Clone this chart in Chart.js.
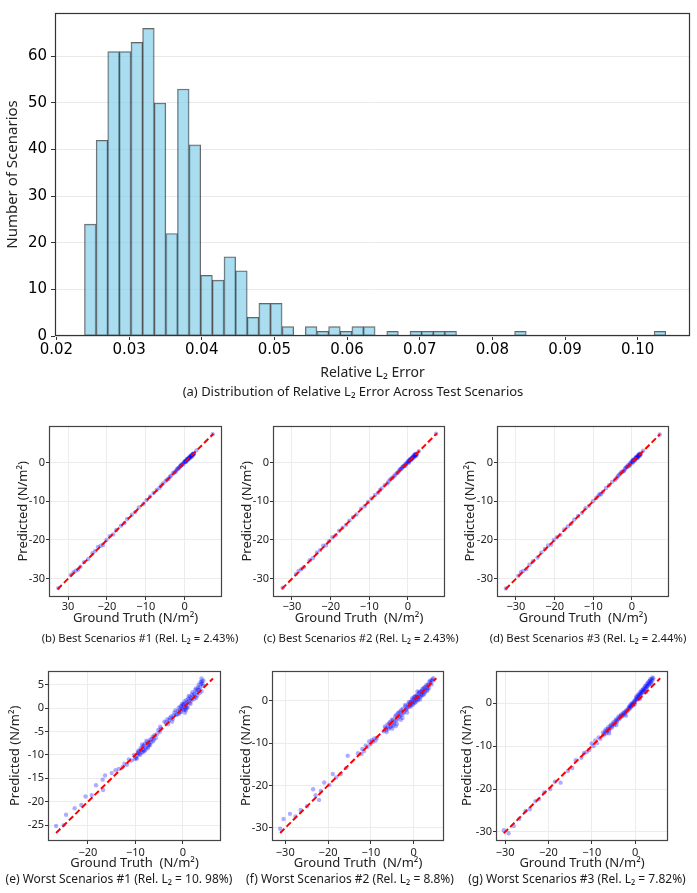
<!DOCTYPE html>
<html>
<head>
<meta charset="utf-8">
<script src="https://cdn.jsdelivr.net/npm/chart.js"></script>
<style>
  body { margin: 0; background: #fff; width: 697px; height: 893px; position: relative; overflow: hidden; font-family: 'Noto Sans', sans-serif; }
  canvas { position: absolute; }
  .cap { position: absolute; transform: translate(-50%, -50%); white-space: pre; color: #1a1a1a; font-size: 12px; }
  .row1 { font-size: 11.3px; }
</style>
</head>
<body>
<canvas id="hist"></canvas>
<canvas id="cb"></canvas>
<canvas id="cc"></canvas>
<canvas id="cd"></canvas>
<canvas id="ce"></canvas>
<canvas id="cf"></canvas>
<canvas id="cg"></canvas>

<div class="cap" style="left:353px;top:391px;font-size:13px">(a) Distribution of Relative L₂ Error Across Test Scenarios</div>
<div class="cap row1" style="left:140px;top:637px">(b) Best Scenarios #1 (Rel. L₂ = 2.43%)</div>
<div class="cap row1" style="left:361px;top:637px">(c) Best Scenarios #2 (Rel. L₂ = 2.43%)</div>
<div class="cap row1" style="left:588px;top:637px">(d) Best Scenarios #3 (Rel. L₂ = 2.44%)</div>
<div class="cap" style="left:119px;top:878px">(e) Worst Scenarios #1 (Rel. L₂ = 10. 98%)</div>
<div class="cap" style="left:350px;top:878px">(f) Worst Scenarios #2 (Rel. L₂ = 8.8%)</div>
<div class="cap" style="left:577px;top:878px">(g) Worst Scenarios #3 (Rel. L₂ = 7.82%)</div>

<script>
// ---- histogram data (50 bins) ----
const binStart = 0.02386;
const binWidth = 0.0016;
const histCounts = [24, 42, 61, 61, 63, 66, 50, 22, 53, 41,
                    13, 12, 17, 14, 4, 7, 7, 2, 0, 2,
                    1, 2, 1, 2, 2, 0, 1, 0, 1, 1,
                    1, 1, 0, 0, 0, 0, 0, 1, 0, 0,
                    0, 0, 0, 0, 0, 0, 0, 0, 0, 1];
const histXTicks = [0.02, 0.03, 0.04, 0.05, 0.06, 0.07, 0.08, 0.09, 0.10];
const histXLabels = ['0.02', '0.03', '0.04', '0.05', '0.06', '0.07', '0.08', '0.09', '0.10'];
const histYTicks = [0, 10, 20, 30, 40, 50, 60];

// ---- scatter data: [ground truth, predicted] ----
const scatterB = [[-32.5,-32.4],[-29.3,-29.0],[-28.6,-28.3],[-28.0,-27.9],[-27.4,-27.6],[-26.8,-26.9],[-25.9,-25.7],
  [-24.8,-24.9],[-23.7,-23.4],[-23.0,-22.8],[-22.3,-21.8],[-21.6,-21.5],[-21.0,-21.3],[-20.1,-20.0],[-19.3,-19.0],
  [-18.4,-18.6],[-17.6,-17.4],[-16.4,-16.3],[-15.5,-15.6],[-14.8,-14.6],[-13.6,-13.5],[-12.7,-12.8],[-11.8,-11.6],
  [-10.6,-10.7],[-9.8,-9.7],[-8.9,-8.8],[-8.0,-7.9],[-7.2,-7.1],[-6.5,-6.6],[-5.6,-5.4],[-4.9,-4.8],[-4.1,-4.2],
  [-3.5,-3.4],[-3.0,-2.8],[-2.4,-2.5],[-2.0,-1.8],[-1.6,-1.5],[-1.2,-1.0],[-0.8,-0.6],[-0.5,-0.3],[-0.2,0.0],
  [0.1,0.3],[0.3,0.1],[0.5,0.6],[0.8,0.7],[1.0,1.1],[1.2,1.0],[1.5,1.4],[1.7,1.8],[1.9,1.6],[2.1,2.0],[2.3,2.3],
  [2.0,2.2],[1.4,1.6],[0.6,0.9],[-0.9,-0.7],[-1.4,-1.3],[3.0,3.1],[7.2,7.3],
  [-2.7,-2.6],[-2.2,-2.1],[-1.8,-1.6],[-1.0,-0.9],[-0.4,-0.5],[0.0,0.2],[0.2,0.4],[0.4,0.3],[0.7,0.9],[0.9,0.8],
  [1.1,1.3],[1.3,1.2],[1.6,1.7],[1.8,1.5],[2.0,2.0],[2.2,2.1],[2.4,2.2],[-3.8,-3.7],[-4.5,-4.4],[-6.1,-6.0]];
const scatterC = [[-32.4,-32.3],[-29.0,-28.8],[-28.3,-28.0],[-27.6,-27.5],[-26.9,-27.0],[-25.4,-25.2],[-24.6,-24.7],
  [-23.5,-23.2],[-22.7,-22.6],[-21.9,-21.5],[-21.2,-21.4],[-20.4,-20.3],[-19.5,-19.3],[-18.7,-18.8],[-17.8,-17.6],
  [-16.9,-16.8],[-16.0,-16.1],[-15.1,-15.0],[-14.2,-14.1],[-13.3,-13.4],[-12.1,-11.9],[-11.2,-11.3],[-10.3,-10.2],
  [-9.4,-9.3],[-8.5,-8.4],[-7.7,-7.8],[-6.8,-6.7],[-6.0,-5.9],[-5.3,-5.4],[-4.6,-4.4],[-3.9,-3.9],[-3.2,-3.1],
  [-2.6,-2.6],[-2.1,-1.9],[-1.7,-1.7],[-1.3,-1.1],[-0.9,-0.8],[-0.6,-0.4],[-0.3,-0.1],[0.0,0.2],[0.2,-0.1],
  [0.4,0.5],[0.7,0.6],[0.9,1.0],[1.1,0.9],[1.3,1.4],[1.6,1.5],[1.8,1.9],[2.0,1.7],[2.2,2.1],[1.9,2.2],
  [1.5,1.8],[0.5,0.8],[-0.7,-0.9],[-1.5,-1.3],[2.8,2.9],[7.3,7.4],
  [-2.8,-2.7],[-2.3,-2.2],[-1.9,-1.7],[-1.1,-1.0],[-0.5,-0.5],[0.1,0.3],[0.3,0.2],[0.6,0.8],[0.8,0.7],[1.0,1.2],
  [1.2,1.1],[1.4,1.3],[1.7,1.8],[1.9,1.6],[2.1,2.2],[2.3,2.0],[-3.5,-3.5],[-4.2,-4.1],[-5.0,-4.9],[-7.2,-7.1]];
const scatterD = [[-32.6,-32.5],[-29.4,-29.2],[-28.7,-28.3],[-28.1,-28.0],[-27.3,-27.5],[-26.5,-26.4],[-25.6,-25.5],
  [-24.4,-24.5],[-23.4,-23.2],[-22.5,-22.3],[-21.7,-21.4],[-20.9,-21.2],[-20.2,-20.0],[-19.4,-19.3],[-18.5,-18.7],
  [-17.5,-17.3],[-16.6,-16.5],[-15.7,-15.8],[-14.9,-14.7],[-13.9,-13.8],[-12.9,-13.0],[-12.0,-11.8],[-11.1,-11.2],
  [-10.1,-10.0],[-9.2,-9.1],[-8.3,-8.1],[-7.5,-7.6],[-6.7,-6.6],[-5.9,-5.9],[-5.1,-5.0],[-4.4,-4.5],[-3.7,-3.6],
  [-3.1,-3.0],[-2.5,-2.4],[-2.0,-2.1],[-1.6,-1.4],[-1.2,-1.2],[-0.8,-0.7],[-0.5,-0.2],[-0.1,0.1],[0.2,0.0],
  [0.4,0.6],[0.7,0.5],[0.9,1.1],[1.2,1.0],[1.4,1.6],[1.6,1.3],[1.8,2.0],[2.0,1.8],[2.2,2.3],[1.7,1.9],
  [1.1,1.4],[0.3,0.7],[-0.6,-0.9],[-1.4,-1.1],[2.9,3.0],[7.2,7.2],
  [-2.8,-2.6],[-2.2,-2.3],[-1.8,-1.7],[-1.0,-0.8],[-0.3,-0.4],[0.0,0.3],[0.3,0.2],[0.5,0.7],[0.8,0.6],[1.0,1.2],
  [1.3,1.1],[1.5,1.5],[1.7,1.6],[1.9,2.1],[2.1,1.9],[2.3,2.1],[-3.4,-3.3],[-4.0,-4.1],[-8.0,-8.2],[-8.6,-8.5]];
const scatterE = [[3.9,6.3],[4.0,5.7],[3.8,5.2],[3.6,4.4],[4.2,4.8],[3.3,5.0],[3.1,3.9],[2.9,3.4],[2.6,3.8],
  [2.4,3.0],[2.2,2.6],[1.9,2.9],[1.7,2.1],[1.5,2.4],[1.3,1.6],[1.1,2.0],[0.9,1.2],[0.7,0.5],[0.5,1.0],[0.3,0.2],
  [0.2,-0.4],[0.0,0.6],[-0.1,-0.2],[-0.3,0.3],[-0.4,-0.8],[-0.6,-0.3],[0.6,-0.5],[1.0,0.2],[0.4,-1.0],[-0.8,-1.2],
  [-1.1,-0.6],[-1.4,-1.5],[-1.8,-1.0],[-2.1,-2.3],[-2.5,-1.8],[-2.9,-2.6],[-3.3,-2.4],[-3.6,-3.1],[2.8,2.2],
  [3.5,3.2],[1.6,0.9],[-4.6,-4.4],[-4.9,-5.1],[-5.2,-4.7],[-5.5,-5.6],[-6.1,-6.7],[-6.4,-6.2],[-6.7,-7.3],
  [-7.0,-6.8],[-7.2,-7.9],[-7.5,-7.3],[-7.8,-8.4],[-8.0,-7.6],[-8.3,-8.9],[-8.5,-8.2],[-8.7,-9.5],[-8.9,-8.6],
  [-9.2,-9.8],[-9.4,-9.1],[-9.6,-10.2],[-8.1,-9.2],[-7.4,-8.6],[-6.9,-7.9],[-9.9,-10.6],[-10.3,-10.0],
  [-10.8,-11.2],[-11.4,-11.0],[-11.8,-12.1],[-12.3,-11.9],[-12.7,-12.6],[-13.5,-13.0],[-14.2,-13.3],
  [-15.0,-13.9],[-16.4,-14.4],[-16.9,-15.3],[-16.8,-17.5],[-18.3,-16.5],[-19.2,-18.6],[-20.5,-18.9],
  [-21.4,-20.7],[-22.8,-21.4],[-24.6,-22.8],[-25.1,-25.0],[-26.7,-25.2],
  [0.1,0.9],[0.3,1.4],[0.5,-0.2],[0.7,1.7],[0.8,0.0],[1.2,2.6],[1.4,1.1],[1.8,1.6],[2.0,3.4],[2.3,1.9],[2.5,2.4],
  [2.7,4.2],[3.0,2.7],[3.2,4.4],[3.4,3.8],[3.7,5.6],[4.1,5.2],[4.3,5.9],[3.9,3.6],[-0.2,0.9],[-0.5,0.4],
  [-0.7,-0.9],[-0.9,0.1],[-1.2,-1.3],[-1.6,-0.5],[-2.0,-1.6],[-2.3,-2.9],[-2.7,-2.1],[-3.1,-3.4],[-3.9,-2.9],
  [-6.3,-7.1],[-6.6,-6.6],[-7.1,-7.6],[-7.3,-8.2],[-7.7,-7.0],[-7.9,-8.9],[-8.2,-8.0],[-8.4,-9.4],[-8.6,-7.8],
  [-8.8,-9.0],[-9.0,-10.0],[-9.3,-9.3],[-9.5,-9.6],[-9.7,-10.8],[-10.1,-10.9],[-6.0,-5.8],[-5.7,-6.4],[-4.8,-4.0]];
const scatterF = [[4.6,5.3],[4.3,4.7],[4.0,4.2],[3.7,4.5],[3.5,3.6],[3.2,3.0],[3.0,3.7],[2.7,2.4],[2.5,3.1],
  [2.2,2.0],[2.0,2.7],[1.8,1.4],[1.6,2.1],[1.4,1.0],[1.2,1.7],[1.0,0.6],[0.8,1.3],[0.6,0.2],[0.4,0.9],[0.2,-0.2],
  [0.0,0.4],[-0.2,-0.6],[-0.4,0.1],[-0.6,-1.0],[-0.8,-0.4],[1.5,0.3],[2.4,1.5],[3.3,2.6],[0.9,2.2],[-1.0,-1.3],
  [-1.3,-0.8],[-1.6,-1.9],[-1.9,-1.3],[-2.2,-2.6],[-2.5,-1.9],[-2.8,-3.3],[-3.1,-2.6],[-3.4,-3.8],[-3.7,-3.0],
  [-4.0,-4.6],[-4.3,-3.7],[-4.6,-5.3],[-4.9,-4.4],[-5.2,-5.9],[-5.5,-5.0],[-5.8,-6.6],[-6.1,-5.6],[-6.4,-6.9],
  [-3.9,-5.5],[-5.0,-6.6],[-2.6,-4.1],[-6.7,-6.1],[-8.6,-8.8],[-8.9,-9.4],[-9.2,-8.9],[-9.5,-9.7],[-9.8,-9.3],
  [-10.1,-10.3],[-10.4,-9.6],[-10.8,-10.9],[-11.2,-10.6],[-11.6,-11.9],[-12.0,-11.4],[-12.2,-12.6],[-13.0,-12.4],
  [-15.4,-13.0],[-15.8,-15.9],[-17.0,-17.3],[-18.1,-18.1],[-18.9,-17.3],[-19.7,-19.9],[-20.9,-19.3],
  [-21.7,-21.3],[-22.1,-23.4],[-22.9,-22.3],[-23.5,-20.9],[-24.9,-24.9],[-26.4,-25.8],[-27.6,-27.3],
  [-28.9,-26.7],[-30.4,-27.9],[-31.2,-30.2],
  [0.1,0.9],[0.3,-0.5],[0.5,1.2],[0.7,-0.2],[0.9,0.9],[1.1,0.2],[1.3,2.0],[1.7,1.0],[1.9,2.3],[2.1,1.3],[2.3,2.9],
  [2.6,1.9],[2.8,3.3],[3.1,2.3],[3.4,3.9],[3.6,3.0],[3.9,4.8],[4.2,3.8],[4.4,5.0],[-0.1,-0.9],[-0.3,0.6],
  [-0.5,-0.3],[-0.7,-1.4],[-0.9,-0.9],[-1.1,-0.3],[-1.4,-1.6],[-1.8,-2.2],[-2.0,-1.0],[-2.4,-3.0],[-2.9,-2.2],
  [-3.2,-3.6],[-3.5,-2.8],[-3.8,-4.2],[-4.1,-3.4],[-4.5,-4.9],[-4.8,-5.8],[-5.1,-4.6],[-5.4,-6.2],[-5.7,-5.3],
  [-6.0,-6.3],[-6.3,-7.4],[-6.6,-6.5],[-7.0,-7.2],[-3.0,-4.5],[-4.2,-6.0],[-1.5,-2.8]];
const scatterG = [[4.2,5.8],[4.0,5.3],[3.8,5.6],[3.6,4.8],[3.4,5.2],[3.2,4.3],[3.0,4.7],[2.8,3.8],[2.6,4.1],
  [2.4,3.3],[2.2,3.6],[2.0,2.8],[1.8,3.1],[1.6,2.3],[1.4,2.6],[1.2,1.8],[1.0,2.1],[0.8,1.3],[0.6,1.6],[0.4,0.8],
  [0.2,1.1],[0.0,0.3],[-0.2,0.5],[-0.4,-0.2],[-0.6,0.1],[-0.8,-0.6],[-1.0,-0.3],[-1.2,-1.0],[3.9,4.4],[2.5,2.6],
  [1.1,1.0],[-1.4,-0.8],[-1.7,-1.5],[-2.0,-1.6],[-2.3,-2.2],[-2.6,-2.1],[-2.9,-2.8],[-3.2,-2.6],[-3.5,-3.3],
  [-3.8,-3.1],[-4.1,-4.0],[-4.4,-3.8],[-4.7,-4.7],[-5.0,-4.4],[-5.3,-5.4],[-5.6,-5.0],[-5.9,-6.0],[-6.2,-5.6],
  [-6.5,-6.5],[-6.8,-6.1],[-7.1,-7.1],[-7.4,-6.8],[-2.1,-2.9],[-4.3,-5.1],[-6.0,-7.0],[-8.0,-8.3],[-8.4,-8.0],
  [-8.8,-9.3],[-9.2,-8.7],[-9.6,-10.0],[-10.0,-9.4],[-10.6,-10.9],[-11.2,-11.4],[-11.8,-11.6],[-12.4,-12.7],
  [-13.7,-13.3],[-14.5,-15.1],[-15.5,-15.8],[-17.2,-18.5],[-18.5,-18.3],[-19.6,-20.0],[-21.0,-20.8],
  [-22.2,-22.4],[-23.0,-22.8],[-24.3,-24.7],[-25.3,-25.1],[-26.7,-26.9],[-28.0,-28.6],[-29.2,-30.3],[-30.3,-29.6],
  [0.1,0.8],[0.3,1.6],[0.5,1.0],[0.7,2.0],[0.9,1.5],[1.1,2.5],[1.3,2.1],[1.5,3.0],[1.7,2.6],[1.9,3.4],[2.1,3.0],
  [2.3,4.0],[2.5,3.5],[2.7,4.5],[2.9,4.0],[3.1,5.0],[3.3,4.5],[3.5,5.6],[3.7,5.1],[4.0,6.0],[-0.1,-0.3],
  [-0.3,0.2],[-0.5,-0.5],[-0.7,-0.2],[-0.9,-0.9],[-1.1,-0.6],[-1.3,-1.4],[-1.5,-1.1],[-1.8,-1.9],[-2.1,-1.9],
  [-2.4,-2.6],[-2.7,-2.4],[-3.0,-3.1],[-3.3,-2.9],[-3.6,-3.7],[-3.9,-3.5],[-4.2,-4.4],[-4.5,-4.1],[-4.8,-5.1],
  [-5.1,-4.8],[-5.4,-5.7],[-5.7,-5.3],[-6.0,-6.4],[-6.3,-6.0],[-6.6,-7.0],[-6.9,-6.6],[-7.3,-7.5]];

// y = x reference line ends (min, max of the data)
const lineB = [-32.7, 7.4];
const lineC = [-32.6, 7.5];
const lineD = [-32.7, 7.3];
const lineE = [-26.7, 6.3];
const lineF = [-31.2, 5.3];
const lineG = [-30.3, 5.8];

const xTicksBest = [-30, -20, -10, 0];
const xLabelsB = ['30', '\u221220', '\u221210', '0'];
const xLabelsBest = ['\u221230', '\u221220', '\u221210', '0'];
const yTicksBest = [0, -10, -20, -30];
const yLabelsBest = ['0', '-10', '-20', '-30'];
const xTicksE = [-20, -10, 0];
const xLabelsE = ['\u221220', '\u221210', '0'];
const yTicksE = [5, 0, -5, -10, -15, -20, -25];
const yLabelsE = ['5', '0', '-5', '-10', '-15', '-20', '-25'];
const xTicksWorst = [-30, -20, -10, 0];
const xLabelsWorst = ['\u221230', '\u221220', '\u221210', '0'];
const yTicksWorst = [0, -10, -20, -30];
const yLabelsWorst = ['0', '-10', '-20', '-30'];

Chart.defaults.font.family = "'Noto Sans', sans-serif";
Chart.defaults.color = '#222';

// draws the box around the plot area like matplotlib spines
const framePlugin = {
  id: 'frame',
  afterDraw(chart) {
    const { ctx, chartArea: a } = chart;
    ctx.save();
    ctx.strokeStyle = chart.options.frameColor || '#333';
    ctx.lineWidth = 1.2;
    ctx.strokeRect(Math.round(a.left) + 0.5, Math.round(a.top) + 0.5,
      Math.round(a.right - a.left) - 1, Math.round(a.bottom - a.top) - 1);
    ctx.restore();
  }
};

function place(id, left, top, w, h) {
  const c = document.getElementById(id);
  c.width = Math.round(w);
  c.height = Math.round(h);
  c.style.left = Math.round(left) + 'px';
  c.style.top = Math.round(top) + 'px';
  return c;
}

// ---- histogram ----
(function () {
  const c = place('hist', 0, 0, 697, 385);
  new Chart(c, {
    type: 'bar',
    data: {
      datasets: [{
        data: histCounts.map((n, i) => ({ x: binStart + (i + 0.5) * binWidth, y: n })),
        backgroundColor: 'rgba(135, 206, 235, 0.7)',
        borderColor: 'rgba(0, 0, 0, 0.6)',
        borderWidth: ctx => (ctx.raw && ctx.raw.y > 0 ? 1 : 0),
        borderSkipped: false,
        barPercentage: 1,
        categoryPercentage: 1
      }]
    },
    options: {
      responsive: false,
      animation: false,
      frameColor: '#333',
      layout: { padding: { top: 8, right: 7, left: 0, bottom: 0 } },
      plugins: { legend: { display: false }, tooltip: { enabled: false } },
      scales: {
        x: {
          type: 'linear',
          offset: false,
          min: 0.0198,
          max: 0.1072,
          grid: { display: true, offset: false, drawOnChartArea: false, tickLength: 4, tickColor: '#333' },
          border: { display: false },
          afterBuildTicks: s => { s.ticks = histXTicks.map(v => ({ value: v })); },
          afterFit: s => { s.height = 49; },
          ticks: {
            font: { family: 'DejaVu Sans', size: 15 }, color: '#000', padding: 1, maxRotation: 0,
            callback: (v, i) => histXLabels[i]
          },
          title: { display: true, text: 'Relative L₂ Error', font: { size: 14 }, color: '#222', padding: { top: 0, bottom: 4 } }
        },
        y: {
          min: 0,
          max: 69.3,
          grid: { color: '#e9e9e9', tickLength: 4, tickColor: '#333' },
          border: { display: false },
          afterBuildTicks: s => { s.ticks = histYTicks.map(v => ({ value: v })); },
          afterFit: s => { s.width = 55; },
          ticks: { font: { family: 'DejaVu Sans', size: 15 }, color: '#000', padding: 4 },
          title: { display: true, text: 'Number of Scenarios', font: { size: 15 }, color: '#222', padding: { top: 4, bottom: 0 } }
        }
      }
    },
    plugins: [framePlugin]
  });
})();

// ---- scatter panels ----
function makeScatter(id, cfg) {
  const [fl, ft, fr, fb] = cfg.frame;
  const left = cfg.titleX - 11.8;
  const top = ft - 6;
  const right = fr + 6;
  const bottom = cfg.titleY + 11.8;
  const c = place(id, left, top, right - left, bottom - top);
  const yW = Math.round(fl) - Math.round(left);
  const xH = Math.round(bottom) - Math.round(fb);
  new Chart(c, {
    type: 'scatter',
    data: {
      datasets: [
        {
          data: [{ x: cfg.line[0], y: cfg.line[0] }, { x: cfg.line[1], y: cfg.line[1] }],
          showLine: true,
          borderColor: '#ff0000',
          borderWidth: 2,
          borderDash: [6, 3],
          pointRadius: 0,
          order: 0
        },
        {
          data: cfg.pts.map(p => ({ x: p[0], y: p[1] })),
          backgroundColor: 'rgba(0, 0, 255, 0.32)',
          borderWidth: 0,
          pointRadius: 2.2,
          order: 1
        }
      ]
    },
    options: {
      responsive: false,
      animation: false,
      frameColor: '#444',
      layout: { padding: { top: 6, right: 6, left: 0, bottom: 0 } },
      plugins: { legend: { display: false }, tooltip: { enabled: false } },
      scales: {
        x: {
          min: cfg.xr[0], max: cfg.xr[1],
          grid: { color: '#ececec', tickLength: 3, tickColor: '#333' },
          border: { display: false },
          afterBuildTicks: s => { s.ticks = cfg.xTicks.map(v => ({ value: v })); },
          afterFit: s => { s.height = xH; },
          ticks: { font: { size: 11 }, color: '#222', padding: cfg.xPad, maxRotation: 0, callback: (v, i) => cfg.xLabels[i] },
          title: { display: true, text: cfg.xTitle, font: { size: 13 }, color: '#222', padding: { top: 0, bottom: 4 } }
        },
        y: {
          min: cfg.yr[0], max: cfg.yr[1],
          grid: { color: '#ececec', tickLength: 3, tickColor: '#333' },
          border: { display: false },
          afterBuildTicks: s => { s.ticks = cfg.yTicks.map(v => ({ value: v })); },
          afterFit: s => { s.width = yW; },
          ticks: { font: { size: 11 }, color: '#222', padding: 1, callback: (v, i) => cfg.yLabels[i] },
          title: { display: true, text: 'Predicted (N/m²)', font: { size: 13 }, color: '#222', padding: { top: 4, bottom: 0 } }
        }
      }
    },
    plugins: [framePlugin]
  });
}

makeScatter('cb', { frame: [49, 424, 222, 597], titleX: 22.7, titleY: 618.3, xr: [-34.9, 9.6], yr: [-34.7, 9.5],
  pts: scatterB, line: lineB, xTicks: xTicksBest, xLabels: xLabelsB, yTicks: yTicksBest, yLabels: yLabelsBest,
  xTitle: 'Ground Truth (N/m²)', xPad: 0 });
makeScatter('cc', { frame: [273, 424, 445, 597], titleX: 246.7, titleY: 618.3, xr: [-34.9, 9.6], yr: [-34.7, 9.5],
  pts: scatterC, line: lineC, xTicks: xTicksBest, xLabels: xLabelsBest, yTicks: yTicksBest, yLabels: yLabelsBest,
  xTitle: 'Ground Truth  (N/m²)', xPad: 0 });
makeScatter('cd', { frame: [497, 424, 669, 597], titleX: 470, titleY: 618.3, xr: [-34.9, 9.6], yr: [-34.7, 9.5],
  pts: scatterD, line: lineD, xTicks: xTicksBest, xLabels: xLabelsBest, yTicks: yTicksBest, yLabels: yLabelsBest,
  xTitle: 'Ground Truth  (N/m²)', xPad: 0 });
makeScatter('ce', { frame: [48, 669, 221, 841], titleX: 15, titleY: 862.7, xr: [-28.4, 8.0], yr: [-28.4, 8.0],
  pts: scatterE, line: lineE, xTicks: xTicksE, xLabels: xLabelsE, yTicks: yTicksE, yLabels: yLabelsE,
  xTitle: 'Ground Truth  (N/m²)', xPad: 2 });
makeScatter('cf', { frame: [272, 669, 444, 841], titleX: 246, titleY: 862.7, xr: [-33.1, 7.1], yr: [-33.1, 7.1],
  pts: scatterF, line: lineF, xTicks: xTicksWorst, xLabels: xLabelsWorst, yTicks: yTicksWorst, yLabels: yLabelsWorst,
  xTitle: 'Ground Truth  (N/m²)', xPad: 2 });
makeScatter('cg', { frame: [496, 669, 668, 841], titleX: 466.7, titleY: 862.7, xr: [-32.1, 7.6], yr: [-32.1, 7.6],
  pts: scatterG, line: lineG, xTicks: xTicksWorst, xLabels: xLabelsWorst, yTicks: yTicksWorst, yLabels: yLabelsWorst,
  xTitle: 'Ground Truth (N/m²)', xPad: 2 });
</script>
</body>
</html>
